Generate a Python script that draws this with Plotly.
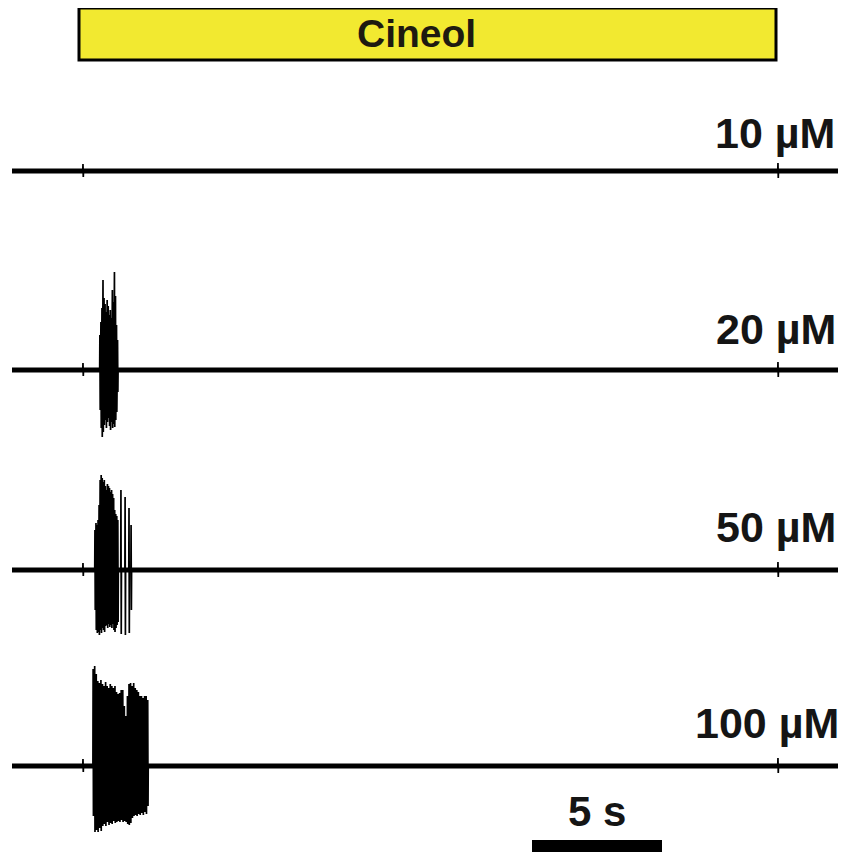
import plotly.graph_objects as go

# ---------------- data ----------------
concentrations = ["10 µM", "20 µM", "50 µM", "100 µM"]
record_end_s = 32.0

# spike bursts: time (s), positive peak, negative trough (arbitrary amplitude units)
t_10 = []
up_10 = []
dn_10 = []

t_20 = [3.38, 3.42, 3.46, 3.50, 3.54, 3.58, 3.62, 3.66, 3.70, 3.74, 3.78, 3.82,
        3.86, 3.90, 3.94, 3.98, 4.02, 4.06]
up_20 = [35, 48, 62, 90, 72, 66, 58, 70, 64, 55, 60, 52, 80, 68, 98, 74, 45, 30]
dn_20 = [-40, -58, -67, -62, -55, -50, -58, -52, -48, -56, -60, -52, -58, -54,
         -57, -50, -42, -22]

t_50 = [3.19, 3.23, 3.27, 3.31, 3.35, 3.39, 3.43, 3.47, 3.51, 3.55, 3.59, 3.63,
        3.67, 3.71, 3.75, 3.79, 3.83, 3.87, 3.91, 3.95, 3.99, 4.03, 4.07,
        4.19, 4.35, 4.50, 4.58]
up_50 = [40, 47, 45, 50, 65, 90, 95, 92, 88, 90, 84, 80, 86, 84, 82, 78, 80, 76,
         72, 60, 56, 54, 50, 80, 73, 62, 45]
dn_50 = [-40, -60, -63, -62, -65, -60, -63, -58, -60, -62, -56, -55, -58, -54,
         -57, -55, -58, -54, -60, -62, -58, -55, -52, -64, -65, -63, -40]

t_100 = [3.12, 3.18, 3.24, 3.30, 3.36, 3.42, 3.48, 3.54, 3.60, 3.66, 3.72, 3.78,
         3.84, 3.90, 3.96, 4.02, 4.08, 4.14, 4.20, 4.26, 4.32, 4.38, 4.44, 4.50,
         4.56, 4.62, 4.68, 4.74, 4.80, 4.86, 4.92, 4.98, 5.04, 5.10, 5.16, 5.22]
up_100 = [97, 100, 92, 85, 83, 86, 82, 80, 84, 80, 78, 82, 80, 78, 80, 74, 72, 73,
          76, 76, 60, 50, 70, 82, 83, 80, 83, 78, 76, 74, 70, 70, 68, 70, 70, 66]
dn_100 = [-50, -66, -64, -66, -62, -65, -60, -58, -60, -56, -59, -57, -58, -55,
          -57, -56, -55, -56, -54, -56, -55, -56, -58, -59, -57, -52, -50, -49,
          -50, -48, -49, -47, -49, -46, -48, -40]

# small stimulus artifacts visible on every trace
artifact_t = [2.73, 29.46]
artifact_up = [7, 8]
artifact_dn = [-6, -7]

scale_bar_start_s = 20.0
scale_bar_len_s = 5.0

# ---------------- layout constants ----------------
# the page body adds an 8 px margin, so the figure is 8 px smaller and all
# reference pixel positions are shifted by OFF
OFF = 8
W, H = 846 - OFF, 852 - OFF
px_per_s = 26.0
x0_px = 12.0 - OFF
baselines_px = [b - OFF for b in [171, 370, 570, 766]]
label_y_px = [v - OFF for v in [133, 329, 527, 723]]
label_right_px = [v - OFF for v in [837, 838, 838, 841]]
y_lo, y_hi = -80, 110


def px(v):
    return v - OFF


bursts = [(t_10, up_10, dn_10), (t_20, up_20, dn_20),
          (t_50, up_50, dn_50), (t_100, up_100, dn_100)]

FONT = "Liberation Sans, Arial, sans-serif"

fig = go.Figure()
layout_axes = {}
for i, (bt, bu, bd) in enumerate(bursts):
    yname = "y" if i == 0 else f"y{i+1}"
    akey = "yaxis" if i == 0 else f"yaxis{i+1}"
    b = baselines_px[i]
    dom = [max(0, 1 - (b - y_lo) / H), min(1, 1 - (b - y_hi) / H)]
    layout_axes[akey] = dict(domain=dom, range=[y_lo, y_hi], visible=False,
                             fixedrange=True, anchor="x")
    # thick baseline (noise band)
    fig.add_trace(go.Scatter(x=[0, record_end_s], y=[0, 0], mode="lines",
                             line=dict(color="black", width=5),
                             yaxis=yname, xaxis="x", hoverinfo="skip",
                             showlegend=False))
    events = sorted(list(zip(bt, bu, bd)) + list(zip(artifact_t, artifact_up, artifact_dn)))
    xs, ys = [0.0], [0.0]
    for t, u, d in events:
        xs += [t - 0.008, t, t + 0.012, t + 0.02]
        ys += [0, u, d, 0]
    xs.append(record_end_s)
    ys.append(0)
    fig.add_trace(go.Scatter(x=xs, y=ys, mode="lines",
                             line=dict(color="black", width=1.7),
                             yaxis=yname, xaxis="x", hoverinfo="skip",
                             showlegend=False))
    fig.add_annotation(text="<b>" + concentrations[i] + "</b>", xref="paper", yref="paper",
                       x=label_right_px[i] / W, y=1 - label_y_px[i] / H, xanchor="right",
                       yanchor="middle", showarrow=False,
                       font=dict(family=FONT, size=43, color="#151515"))

# Cineol application bar
fig.add_shape(type="rect", xref="paper", yref="paper",
              x0=px(79) / W, x1=px(776) / W, y0=1 - px(60) / H, y1=1 - px(8) / H,
              fillcolor="#F2E930", line=dict(color="black", width=3), layer="above")
fig.add_annotation(text="<b>Cineol</b>", xref="paper", yref="paper", x=px(416) / W,
                   y=1 - px(33) / H, xanchor="center", yanchor="middle", showarrow=False,
                   font=dict(family=FONT, size=39, color="#1e1a10"))

# 5 s scale bar
fig.add_shape(type="rect", xref="x", yref="paper",
              x0=scale_bar_start_s, x1=scale_bar_start_s + scale_bar_len_s,
              y0=-0.02, y1=1 - px(840) / H, fillcolor="black", line=dict(width=0))
fig.add_annotation(text="<b>5 s</b>", xref="x", yref="paper",
                   x=scale_bar_start_s + scale_bar_len_s / 2, y=1 - px(811) / H,
                   xanchor="center", yanchor="middle", showarrow=False,
                   font=dict(family=FONT, size=42, color="#151515"))

fig.update_layout(
    width=W, height=H,
    margin=dict(l=0, r=0, t=0, b=0),
    paper_bgcolor="white", plot_bgcolor="white",
    xaxis=dict(range=[-x0_px / px_per_s, (W - x0_px) / px_per_s], visible=False,
               fixedrange=True, domain=[0, 1]),
    showlegend=False,
    **layout_axes,
)

fig.write_html("out.html")
